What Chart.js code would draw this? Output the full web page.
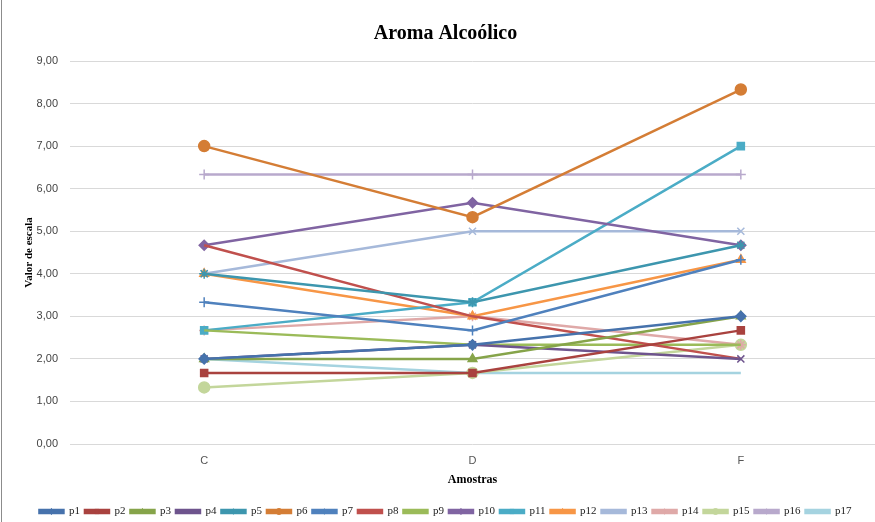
<!DOCTYPE html>
<html lang="pt">
<head>
    <meta charset="UTF-8">
    <title>Aroma Alcoólico</title>
    <script src="https://cdn.jsdelivr.net/npm/chart.js@4.4.0/dist/chart.umd.min.js"></script>
    <style>
        body { margin: 0; background: #fff; }
        #wrap { width: 875px; height: 522px; position: relative; }
    </style>
</head>
<body>
    <div id="wrap"><canvas id="myChart" width="875" height="522"></canvas></div>
    <script>
        // amostras
        const categories = ['C', 'D', 'F'];
        const yTicks = [0, 1, 2, 3, 4, 5, 6, 7, 8, 9];

        // valores por provador
        const p1  = [2.00, 2.33, 3.00];
        const p2  = [1.67, 1.67, 2.67];
        const p3  = [2.00, 2.00, 3.00];
        const p4  = [2.00, 2.33, 2.00];
        const p5  = [4.00, 3.33, 4.67];
        const p6  = [7.00, 5.33, 8.33];
        const p7  = [3.33, 2.67, 4.33];
        const p8  = [4.67, 3.00, 2.00];
        const p9  = [2.67, 2.33, 2.33];
        const p10 = [4.67, 5.67, 4.67];
        const p11 = [2.67, 3.33, 7.00];
        const p12 = [4.00, 3.00, 4.33];
        const p13 = [4.00, 5.00, 5.00];
        const p14 = [2.67, 3.00, 2.33];
        const p15 = [1.33, 1.67, 2.33];
        const p16 = [6.33, 6.33, 6.33];
        const p17 = [2.00, 1.67, 1.67];

        const seriesNames = ['p1','p2','p3','p4','p5','p6','p7','p8','p9','p10','p11','p12','p13','p14','p15','p16','p17'];
        const seriesData = [p1,p2,p3,p4,p5,p6,p7,p8,p9,p10,p11,p12,p13,p14,p15,p16,p17];

        const colors = ['#4672AC','#A9423F','#86A44A','#6E548D','#3D96AE','#D47D35',
                        '#4F81BD','#C0504D','#9BBB59','#8064A2','#4BACC6','#F79646',
                        '#A6B9DA','#DFA9A8','#C3D69B','#B8A9CC','#A5D3E0'];
        const markers = ['rectRot','rect','triangle','crossRot','star','circle','cross',false,false,
                         'rectRot','rect','triangle','crossRot','star','circle','cross',false];

        const datasets = seriesNames.map((name, i) => ({
            label: name,
            data: seriesData[i],
            borderColor: colors[i],
            backgroundColor: colors[i],
            borderWidth: 2.5,
            pointStyle: markers[i] || 'circle',
            pointRadius: markers[i] ? (markers[i] === 'circle' ? 5.5 : 5) : 0,
            pointBorderWidth: 1.5,
            tension: 0
        }));

        const frame = {
            id: 'frame',
            beforeDraw(chart) {
                const c = chart.ctx;
                c.save();
                c.fillStyle = '#fff';
                c.fillRect(0, 0, chart.width, chart.height);
                c.strokeStyle = '#8c8c8c';
                c.lineWidth = 1;
                c.beginPath();
                c.moveTo(1.5, 0);
                c.lineTo(1.5, chart.height);
                c.stroke();
                c.restore();
            }
        };

        // small marker in the middle of each legend line
        const legendMarks = {
            id: 'legendMarks',
            afterDraw(chart) {
                const lg = chart.legend;
                if (!lg || !lg.legendHitBoxes || !Chart.helpers || !Chart.helpers.drawPoint) return;
                const c = chart.ctx;
                const bw = lg.options.labels.boxWidth;
                lg.legendHitBoxes.forEach((hb, i) => {
                    if (!markers[i]) return;
                    c.save();
                    c.fillStyle = colors[i];
                    c.strokeStyle = colors[i];
                    c.lineWidth = 1;
                    Chart.helpers.drawPoint(c, { pointStyle: markers[i], radius: 3, rotation: 0, borderWidth: 1 },
                        hb.left + bw / 2, hb.top + hb.height / 2);
                    c.restore();
                });
            }
        };

        const ctx = document.getElementById('myChart').getContext('2d');
        new Chart(ctx, {
            type: 'line',
            data: { labels: categories, datasets: datasets },
            plugins: [frame, legendMarks],
            options: {
                responsive: false,
                animation: false,
                layout: { autoPadding: false, padding: { left: 16, right: 0, top: 0, bottom: -5 } },
                plugins: {
                    title: {
                        display: true,
                        text: 'Aroma Alcoólico',
                        color: '#000',
                        font: { family: 'Liberation Serif', size: 20, weight: 'bold' },
                        padding: { top: 22, bottom: 15 }
                    },
                    legend: {
                        position: 'bottom',
                        labels: {
                            boxWidth: 24,
                            boxHeight: 3,
                            padding: 5,
                            color: '#222',
                            font: { family: 'Liberation Serif', size: 11 }
                        }
                    },
                    tooltip: { enabled: false }
                },
                scales: {
                    x: {
                        offset: true,
                        afterFit: (axis) => { axis.height = 57; },
                        grid: { display: false, drawTicks: false },
                        border: { display: false },
                        ticks: {
                            color: '#555',
                            padding: 10,
                            font: { family: 'Liberation Sans', size: 11 }
                        },
                        title: {
                            display: true,
                            text: 'Amostras',
                            color: '#000',
                            padding: { top: 5, bottom: 14 },
                            font: { family: 'Liberation Serif', size: 12, weight: 'bold' }
                        }
                    },
                    y: {
                        min: 0,
                        max: 9,
                        afterBuildTicks: (axis) => { axis.ticks = yTicks.map(v => ({ value: v })); },
                        afterFit: (axis) => { axis.width = 54; },
                        grid: { color: '#D9D9D9', lineWidth: 1, drawTicks: false },
                        border: { display: false },
                        ticks: {
                            color: '#444',
                            padding: 12,
                            font: { family: 'Liberation Sans', size: 11 },
                            callback: (v) => v.toFixed(2).replace('.', ',')
                        },
                        title: {
                            display: true,
                            text: 'Valor de escala',
                            color: '#000',
                            padding: { top: 7, bottom: 0 },
                            font: { family: 'Liberation Serif', size: 11, weight: 'bold' }
                        }
                    }
                }
            }
        });
    </script>
</body>
</html>
